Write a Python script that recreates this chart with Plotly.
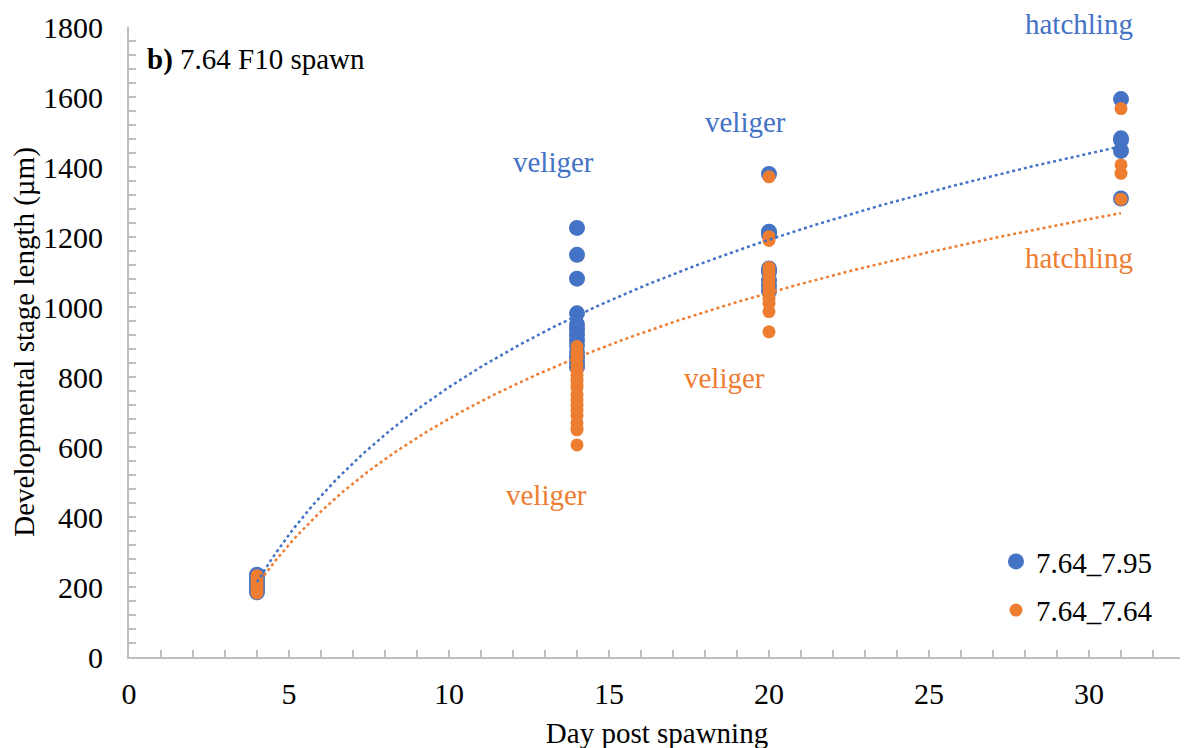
import numpy as np
import plotly.graph_objects as go

# Data
blue_name = "7.64_7.95"
orange_name = "7.64_7.64"

blue_days = [4]*6 + [14]*13 + [20]*8 + [31]*5
blue_len = [185, 195, 205, 215, 225, 235,
            1226, 1149, 1081, 982, 950, 935, 920, 905, 890, 870, 855, 840, 828,
            1380, 1215, 1207, 1110, 1100, 1077, 1060, 1045,
            1594, 1482, 1477, 1446, 1310]

orange_days = [4]*6 + [14]*18 + [20]*13 + [31]*4
orange_len = [183, 190, 200, 210, 220, 232,
              887, 870, 854, 835, 820, 805, 791, 778, 769, 750, 734, 720, 706, 690, 669, 655, 649, 606,
              1372, 1201, 1190, 1113, 1100, 1085, 1070, 1055, 1040, 1025, 1011, 987, 929,
              1567, 1406, 1382, 1308]

# Logarithmic trend lines (y = a*ln(x) + b), coefficients
blue_trend = (608, -629)
orange_trend = (519, -514)
trend_days = (4, 31)

blue_labels = [("veliger", 13.25, 1414), ("veliger", 19.28, 1529)]
blue_top_label = ("hatchling", 29.69)
orange_labels = [("veliger", 13.06, 463), ("veliger", 18.6, 797), ("hatchling", 29.7, 1140)]

BLUE = "#4472C4"
ORANGE = "#ED7D31"
FONT = "Liberation Serif"

def trend(coef):
    xs = np.linspace(trend_days[0], trend_days[1], 300)
    return xs, coef[0] * np.log(xs) + coef[1]

fig = go.Figure()
fig.add_trace(go.Scatter(x=blue_days, y=blue_len, mode="markers", name=blue_name,
                         marker=dict(color=BLUE, size=16), legendgroup="b"))
fig.add_trace(go.Scatter(x=orange_days, y=orange_len, mode="markers", name=orange_name,
                         marker=dict(color=ORANGE, size=13), legendgroup="o"))
xs, ys = trend(blue_trend)
fig.add_trace(go.Scatter(x=xs, y=ys, mode="lines", showlegend=False, hoverinfo="skip",
                         line=dict(color=BLUE, width=2.5, dash="dot")))
xs, ys = trend(orange_trend)
fig.add_trace(go.Scatter(x=xs, y=ys, mode="lines", showlegend=False, hoverinfo="skip",
                         line=dict(color=ORANGE, width=2.5, dash="dot")))

for t, x, y in blue_labels:
    fig.add_annotation(x=x, y=y, text=t, showarrow=False, font=dict(color=BLUE, size=29, family=FONT))
fig.add_annotation(x=blue_top_label[1], xref="x", yref="paper", y=1.005, yanchor="middle",
                   text=blue_top_label[0], showarrow=False, font=dict(color=BLUE, size=29, family=FONT))
for t, x, y in orange_labels:
    fig.add_annotation(x=x, y=y, text=t, showarrow=False, font=dict(color=ORANGE, size=29, family=FONT))

fig.add_annotation(xref="paper", yref="paper", x=0.015, y=0.948, xanchor="left", yanchor="middle",
                   text="<b>b)</b> 7.64 F10 spawn", showarrow=False,
                   font=dict(color="black", size=29, family=FONT))

axis_common = dict(showline=True, linecolor="#BFBFBF", linewidth=2, showgrid=False, zeroline=False,
                   ticks="inside", ticklen=7, tickcolor="#BFBFBF", tickwidth=1.5, automargin=False,
                   tickfont=dict(size=30, family=FONT, color="black"))
fig.update_xaxes(range=[0, 33], tickvals=[0, 5, 10, 15, 20, 25, 30], ticklabelstandoff=9,
                 minor=dict(dtick=1, ticks="inside", ticklen=7, tickcolor="#BFBFBF", tickwidth=1.5),
                 title=dict(text="Day post spawning", font=dict(size=29, family=FONT, color="black"), standoff=14),
                 **axis_common)
fig.update_yaxes(range=[0, 1800], dtick=200, ticklabelstandoff=18,
                 minor=dict(dtick=40, ticks="inside", ticklen=7, tickcolor="#BFBFBF", tickwidth=1.5),
                 title=dict(text="Developmental stage length (µm)", font=dict(size=29, family=FONT, color="black"), standoff=10),
                 **axis_common)

fig.update_layout(width=1188, height=748, plot_bgcolor="white", paper_bgcolor="white",
                  margin=dict(l=121, r=11, t=19, b=99),
                  legend=dict(x=0.821, xanchor="left", y=0.192, yanchor="top",
                              font=dict(size=29, family=FONT, color="black"),
                              traceorder="grouped", tracegroupgap=8, bgcolor="rgba(0,0,0,0)"))

fig.write_html("out.html")
